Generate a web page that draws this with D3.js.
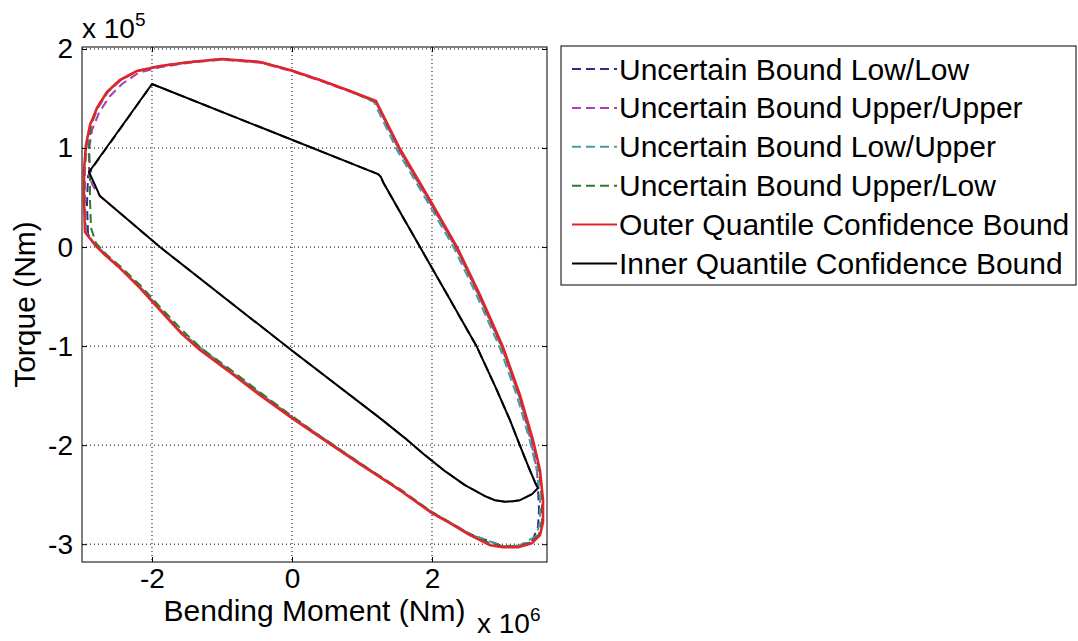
<!DOCTYPE html>
<html>
<head>
<meta charset="utf-8">
<script src="https://cdn.jsdelivr.net/npm/d3@7"></script>
<style>
  body { margin: 0; background: #fff; }
  text { font-family: "Liberation Sans", Arial, sans-serif; fill: #000; }
</style>
</head>
<body>
<svg id="chart" width="1078" height="641"></svg>
<script>
// values: x in units of 1e6 Nm, y in units of 1e5 Nm
var xTicks = [-2, 0, 2];
var yTicks = [-3, -2, -1, 0, 1, 2];

var seriesNames = [
  "Uncertain Bound Low/Low",
  "Uncertain Bound Upper/Upper",
  "Uncertain Bound Low/Upper",
  "Uncertain Bound Upper/Low",
  "Outer Quantile Confidence Bound",
  "Inner Quantile Confidence Bound"
];
var seriesColors = ["#2d2d8a", "#b03cb0", "#4f96a8", "#2f7a2f", "#e2252b", "#000000"];
var seriesDashed = [true, true, true, true, false, false];

var lowLow = [
  [-2.914, 0.131], [-2.929, 0.424], [-2.914, 0.717], [-2.814, 0.838], [-2.671, 0.980],
  [-2.486, 1.162], [-2.243, 1.404], [-2.000, 1.646], [1.229, 0.737], [1.271, 0.707],
  [1.300, 0.657], [1.543, 0.354], [1.829, 0.000], [2.229, -0.495], [2.643, -1.010],
  [2.914, -1.424], [3.114, -1.747], [3.271, -2.030], [3.386, -2.232], [3.471, -2.374],
  [3.514, -2.434], [3.529, -2.657], [3.514, -2.828],
  [3.429, -2.970], [3.229, -3.020], [3.014, -3.020], [2.543, -2.899], [2.000, -2.677],
  [0.971, -2.182], [0.000, -1.717], [-0.886, -1.253], [-1.571, -0.869], [-2.171, -0.404],
  [-2.671, -0.071], [-2.857, 0.061]
];

var upperUpper = [
  [-2.900, 0.717], [-2.900, 0.980], [-2.857, 1.182], [-2.757, 1.354], [-2.614, 1.515],
  [-2.429, 1.646], [-2.200, 1.757], [-1.871, 1.818], [-1.457, 1.862], [-1.000, 1.892],
  [-0.457, 1.862], [-0.029, 1.781], [0.400, 1.680], [0.829, 1.569], [1.193, 1.468],
  [1.529, 0.980], [1.957, 0.465], [2.343, -0.010], [2.671, -0.495], [3.000, -1.020],
  [3.243, -1.505], [3.414, -1.960], [3.500, -2.253], [3.514, -2.434], [3.429, -2.495],
  [3.257, -2.556], [3.157, -2.566], [3.043, -2.571], [2.900, -2.556], [2.757, -2.515],
  [2.471, -2.404], [2.186, -2.263], [1.900, -2.101], [1.614, -1.929], [1.257, -1.727],
  [-0.029, -1.030], [-1.886, 0.000], [-2.743, 0.515], [-2.843, 0.616]
];

var lowUpper = [
  [-2.943, 0.152], [-2.957, 0.475], [-2.957, 0.778], [-2.929, 1.030], [-2.871, 1.232],
  [-2.771, 1.404], [-2.629, 1.566], [-2.443, 1.687], [-2.200, 1.778], [-1.871, 1.828],
  [-1.457, 1.869], [-1.000, 1.899], [-0.457, 1.869], [-0.029, 1.788], [0.400, 1.687],
  [0.829, 1.576], [1.171, 1.465], [1.500, 0.980], [1.929, 0.465], [2.314, -0.010],
  [2.643, -0.495], [2.971, -1.020], [3.214, -1.505], [3.400, -1.960], [3.500, -2.263],
  [3.543, -2.556], [3.543, -2.778], [3.486, -2.919], [3.257, -3.010], [3.014, -3.020],
  [2.543, -2.899], [2.000, -2.677], [0.971, -2.182], [0.000, -1.717], [-0.886, -1.253],
  [-1.571, -0.869], [-2.171, -0.404], [-2.671, -0.071], [-2.829, 0.040]
];

var upperLow = [
  [-2.886, 0.758], [-2.886, 0.475], [-2.871, 0.192], [-2.800, 0.040], [-2.657, -0.071],
  [-2.443, -0.202], [-2.157, -0.394], [-1.871, -0.616], [-1.557, -0.848], [-1.300, -1.020],
  [-0.871, -1.242], [-0.443, -1.475], [0.000, -1.707], [0.400, -1.909], [0.971, -2.182],
  [1.543, -2.444], [2.000, -2.677], [2.543, -2.899], [2.829, -2.990], [3.014, -3.020],
  [3.229, -3.020], [3.414, -2.980], [3.529, -2.899], [3.571, -2.768], [3.571, -2.556],
  [3.529, -2.253], [3.429, -1.949], [3.243, -1.495], [3.000, -1.010], [2.671, -0.485],
  [2.343, 0.000], [1.957, 0.475], [1.529, 0.990], [1.200, 1.465], [0.829, 1.576],
  [0.400, 1.687], [-0.029, 1.788], [-0.457, 1.869], [-1.000, 1.899], [-1.457, 1.869],
  [-1.886, 1.828], [-2.214, 1.778], [-2.457, 1.687], [-2.643, 1.566], [-2.786, 1.404],
  [-2.871, 1.232], [-2.900, 1.030]
];

var outerBound = [
  [-2.957, 0.152], [-2.971, 0.475], [-2.971, 0.778], [-2.943, 1.030], [-2.886, 1.232],
  [-2.786, 1.404], [-2.643, 1.566], [-2.457, 1.687], [-2.214, 1.778], [-1.886, 1.828],
  [-1.457, 1.869], [-1.000, 1.899], [-0.457, 1.869], [-0.029, 1.788], [0.400, 1.687],
  [0.829, 1.576], [1.200, 1.475], [1.543, 0.990], [1.971, 0.475], [2.357, 0.000],
  [2.686, -0.485], [3.014, -1.010], [3.257, -1.495], [3.443, -1.949], [3.543, -2.253],
  [3.586, -2.556], [3.586, -2.778], [3.543, -2.909], [3.429, -2.990], [3.229, -3.030],
  [3.014, -3.030], [2.829, -3.010], [2.543, -2.909], [2.257, -2.788], [2.000, -2.687],
  [1.543, -2.455], [0.971, -2.192], [0.400, -1.919], [0.000, -1.727], [-0.457, -1.495],
  [-0.886, -1.263], [-1.314, -1.040], [-1.571, -0.879], [-1.886, -0.636], [-2.171, -0.414],
  [-2.457, -0.212], [-2.671, -0.081], [-2.814, 0.020], [-2.914, 0.111]
];

var innerBound = [
  [-2.900, 0.758], [-2.000, 1.646], [1.229, 0.737], [1.271, 0.707], [1.300, 0.657],
  [1.543, 0.354], [1.829, 0.000], [2.229, -0.495], [2.643, -1.010], [2.914, -1.424],
  [3.114, -1.747], [3.271, -2.030], [3.386, -2.232], [3.471, -2.374], [3.514, -2.434],
  [3.429, -2.495], [3.257, -2.556], [3.157, -2.566], [3.043, -2.571], [2.900, -2.556],
  [2.757, -2.515], [2.471, -2.404], [2.186, -2.263], [1.900, -2.101], [1.614, -1.929],
  [1.257, -1.727], [-0.029, -1.030], [-1.886, 0.000], [-2.743, 0.515]
];

var seriesData = [lowLow, upperUpper, lowUpper, upperLow, outerBound, innerBound];

var svg = d3.select("#chart");
var plot = { left: 82, top: 47, right: 547, bottom: 562 };

var x = d3.scaleLinear().domain([-3.0, 3.643]).range([plot.left, plot.right]);
var y = d3.scaleLinear().domain([-3.18, 2.02]).range([plot.bottom, plot.top]);

var plain = function(d) { return String(d); };

// grid
var grid = svg.append("g").attr("class", "grid");
grid.selectAll("line.gx").data(xTicks).enter().append("line")
  .attr("x1", function(d) { return x(d); }).attr("x2", function(d) { return x(d); })
  .attr("y1", plot.top).attr("y2", plot.bottom);
grid.selectAll("line.gy").data(yTicks).enter().append("line")
  .attr("y1", function(d) { return y(d); }).attr("y2", function(d) { return y(d); })
  .attr("x1", plot.left).attr("x2", plot.right);
grid.selectAll("line")
  .attr("stroke", "#000").attr("stroke-width", 1).attr("stroke-dasharray", "1,3");

// curves
var line = d3.line()
  .x(function(d) { return x(d[0]); })
  .y(function(d) { return y(d[1]); })
  .curve(d3.curveLinearClosed);

seriesData.forEach(function(s, i) {
  svg.append("path")
    .datum(s)
    .attr("d", line)
    .attr("fill", "none")
    .attr("stroke", seriesColors[i])
    .attr("stroke-width", i == 4 ? 2.6 : 2)
    .attr("stroke-linejoin", "round")
    .attr("stroke-dasharray", seriesDashed[i] ? "9,5" : null);
});

// axes, ticks point inward on all four sides
var fontSize = 28;
svg.append("g").attr("transform", "translate(0," + plot.bottom + ")")
  .call(d3.axisBottom(x).tickValues(xTicks).tickFormat(plain).tickSizeInner(-5).tickSizeOuter(0).tickPadding(6));
svg.append("g").attr("transform", "translate(" + plot.left + ",0)")
  .call(d3.axisLeft(y).tickValues(yTicks).tickFormat(plain).tickSizeInner(-5).tickSizeOuter(0).tickPadding(9));
svg.append("g").attr("transform", "translate(0," + plot.top + ")")
  .call(d3.axisTop(x).tickValues(xTicks).tickFormat("").tickSizeInner(-5).tickSizeOuter(0));
svg.append("g").attr("transform", "translate(" + plot.right + ",0)")
  .call(d3.axisRight(y).tickValues(yTicks).tickFormat("").tickSizeInner(-5).tickSizeOuter(0));

svg.selectAll(".domain").remove();
svg.selectAll(".tick line").attr("stroke", "#000");
svg.selectAll(".tick text")
  .style("font-family", "\"Liberation Sans\", Arial, sans-serif")
  .style("font-size", fontSize + "px").attr("fill", "#000");

svg.append("rect")
  .attr("x", plot.left).attr("y", plot.top)
  .attr("width", plot.right - plot.left).attr("height", plot.bottom - plot.top)
  .attr("fill", "none").attr("stroke", "#000").attr("stroke-width", 1);

// axis labels and exponents
svg.append("text")
  .attr("x", (plot.left + plot.right) / 2).attr("y", 621)
  .attr("text-anchor", "middle").style("font-size", "30px")
  .text("Bending Moment (Nm)");

svg.append("text")
  .attr("transform", "translate(35," + (plot.top + plot.bottom) / 2 + ") rotate(-90)")
  .attr("text-anchor", "middle").style("font-size", "30px")
  .text("Torque (Nm)");

var xExp = svg.append("text").attr("x", 477).attr("y", 633).style("font-size", "28px");
xExp.append("tspan").text("x 10");
xExp.append("tspan").attr("dy", -12).style("font-size", "19px").text("6");

var yExp = svg.append("text").attr("x", 82).attr("y", 38).style("font-size", "28px");
yExp.append("tspan").text("x 10");
yExp.append("tspan").attr("dy", -12).style("font-size", "19px").text("5");

// legend
var legend = svg.append("g");
legend.append("rect")
  .attr("x", 561).attr("y", 46).attr("width", 515).attr("height", 239)
  .attr("fill", "#fff").attr("stroke", "#000").attr("stroke-width", 1);

var rows = legend.selectAll("g.row").data(seriesNames).enter().append("g")
  .attr("transform", function(d, i) { return "translate(0," + (69 + i * 38.9) + ")"; });
rows.append("line")
  .attr("x1", 572).attr("x2", 617).attr("y1", 0).attr("y2", 0)
  .attr("stroke", function(d, i) { return seriesColors[i]; })
  .attr("stroke-width", 2)
  .attr("stroke-dasharray", function(d, i) { return seriesDashed[i] ? "9,5" : null; });
rows.append("text")
  .attr("x", 619).attr("y", 10.5)
  .style("font-size", "30px")
  .text(function(d) { return d; });
</script>
</body>
</html>
